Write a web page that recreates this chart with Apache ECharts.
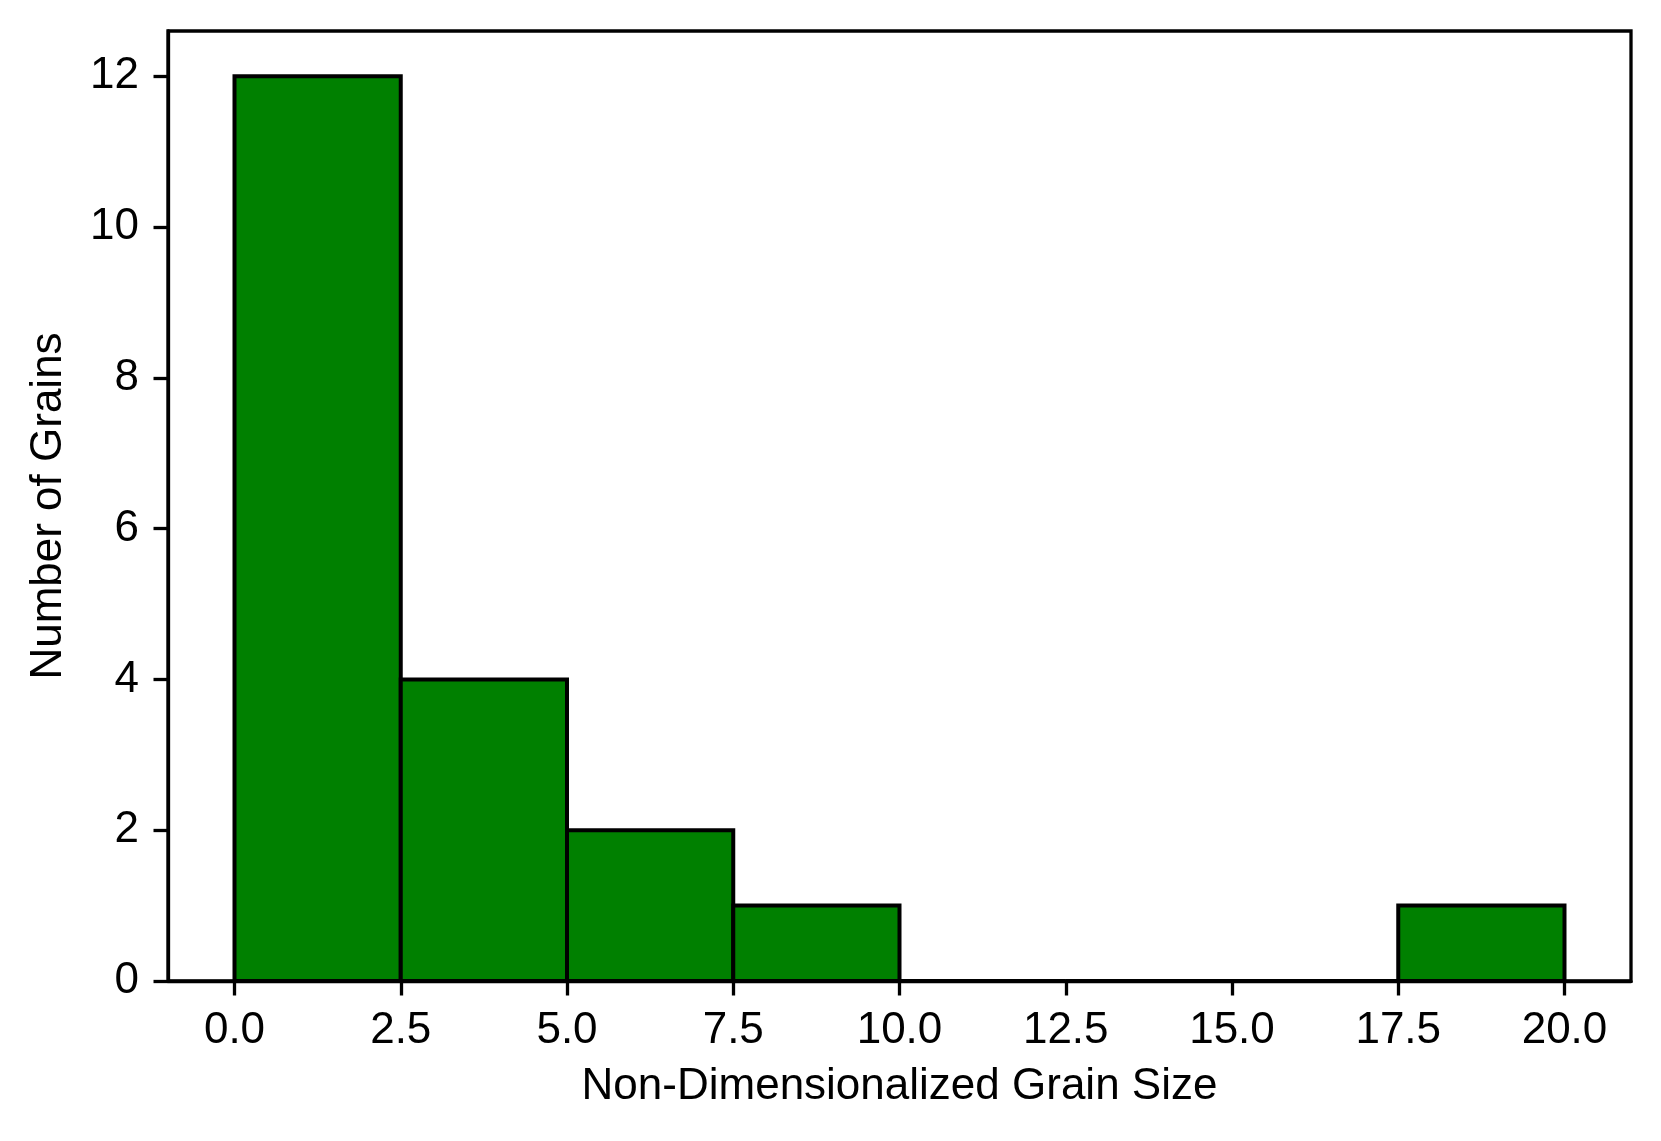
<!DOCTYPE html>
<html>
<head>
<meta charset="utf-8">
<script src="https://cdn.jsdelivr.net/npm/echarts@6/dist/echarts.min.js"></script>
<style>
html,body{margin:0;padding:0;background:#fff;}
#chart{width:1661px;height:1141px;}
</style>
</head>
<body>
<div id="chart"></div>
<script>
// Histogram data
const binEdges = [0, 2.5, 5, 7.5, 10, 12.5, 15, 17.5, 20];
const counts = [12, 4, 2, 1, 0, 0, 0, 1];
const xTicks = [0, 2.5, 5, 7.5, 10, 12.5, 15, 17.5, 20];
const yTicks = [0, 2, 4, 6, 8, 10, 12];
const xLabel = 'Non-Dimensionalized Grain Size';
const yLabel = 'Number of Grains';

const data = counts.map((c, i) => [binEdges[i], binEdges[i + 1], c]);
const FONT = '"Liberation Sans", Arial, Helvetica, sans-serif';
const FS = 44;

const chart = echarts.init(document.getElementById('chart'), null, {renderer: 'canvas'});
chart.setOption({
  animation: false,
  backgroundColor: '#ffffff',
  grid: {
    left: 168, right: 30, top: 31, bottom: 160,
    show: true, borderColor: '#000', borderWidth: 3.3, backgroundColor: 'transparent'
  },
  xAxis: {
    type: 'value', min: -1, max: 21,
    splitLine: {show: false},
    axisLine: {show: true, onZero: false, lineStyle: {color: '#000', width: 3.3}},
    axisTick: {show: true, length: 14.5, customValues: xTicks, lineStyle: {color: '#000', width: 3.3}},
    axisLabel: {
      customValues: xTicks, margin: 28, color: '#000', fontSize: FS, fontFamily: FONT,
      formatter: v => Number(v).toFixed(1)
    },
    name: xLabel, nameLocation: 'middle', nameGap: 84,
    nameTextStyle: {color: '#000', fontSize: FS, fontFamily: FONT}
  },
  yAxis: {
    type: 'value', min: 0, max: 12.6,
    splitLine: {show: false},
    axisLine: {show: true, onZero: false, lineStyle: {color: '#000', width: 3.3}},
    axisTick: {show: true, length: 14.5, customValues: yTicks, lineStyle: {color: '#000', width: 3.3}},
    axisLabel: {
      customValues: yTicks, margin: 29, color: '#000', fontSize: FS, fontFamily: FONT,
      formatter: v => String(v)
    },
    name: yLabel, nameLocation: 'middle', nameGap: 97, nameRotate: 90,
    nameTextStyle: {color: '#000', fontSize: FS, fontFamily: FONT}
  },
  series: [{
    type: 'custom',
    clip: false,
    data: data,
    encode: {x: [0, 1], y: 2},
    renderItem: function (params, api) {
      const p0 = api.coord([api.value(0), 0]);
      const p1 = api.coord([api.value(1), api.value(2)]);
      return {
        type: 'rect',
        shape: {x: p0[0], y: p1[1], width: p1[0] - p0[0], height: p0[1] - p1[1]},
        style: {fill: '#008000', stroke: '#000', lineWidth: 4}
      };
    }
  }]
});
</script>
</body>
</html>
